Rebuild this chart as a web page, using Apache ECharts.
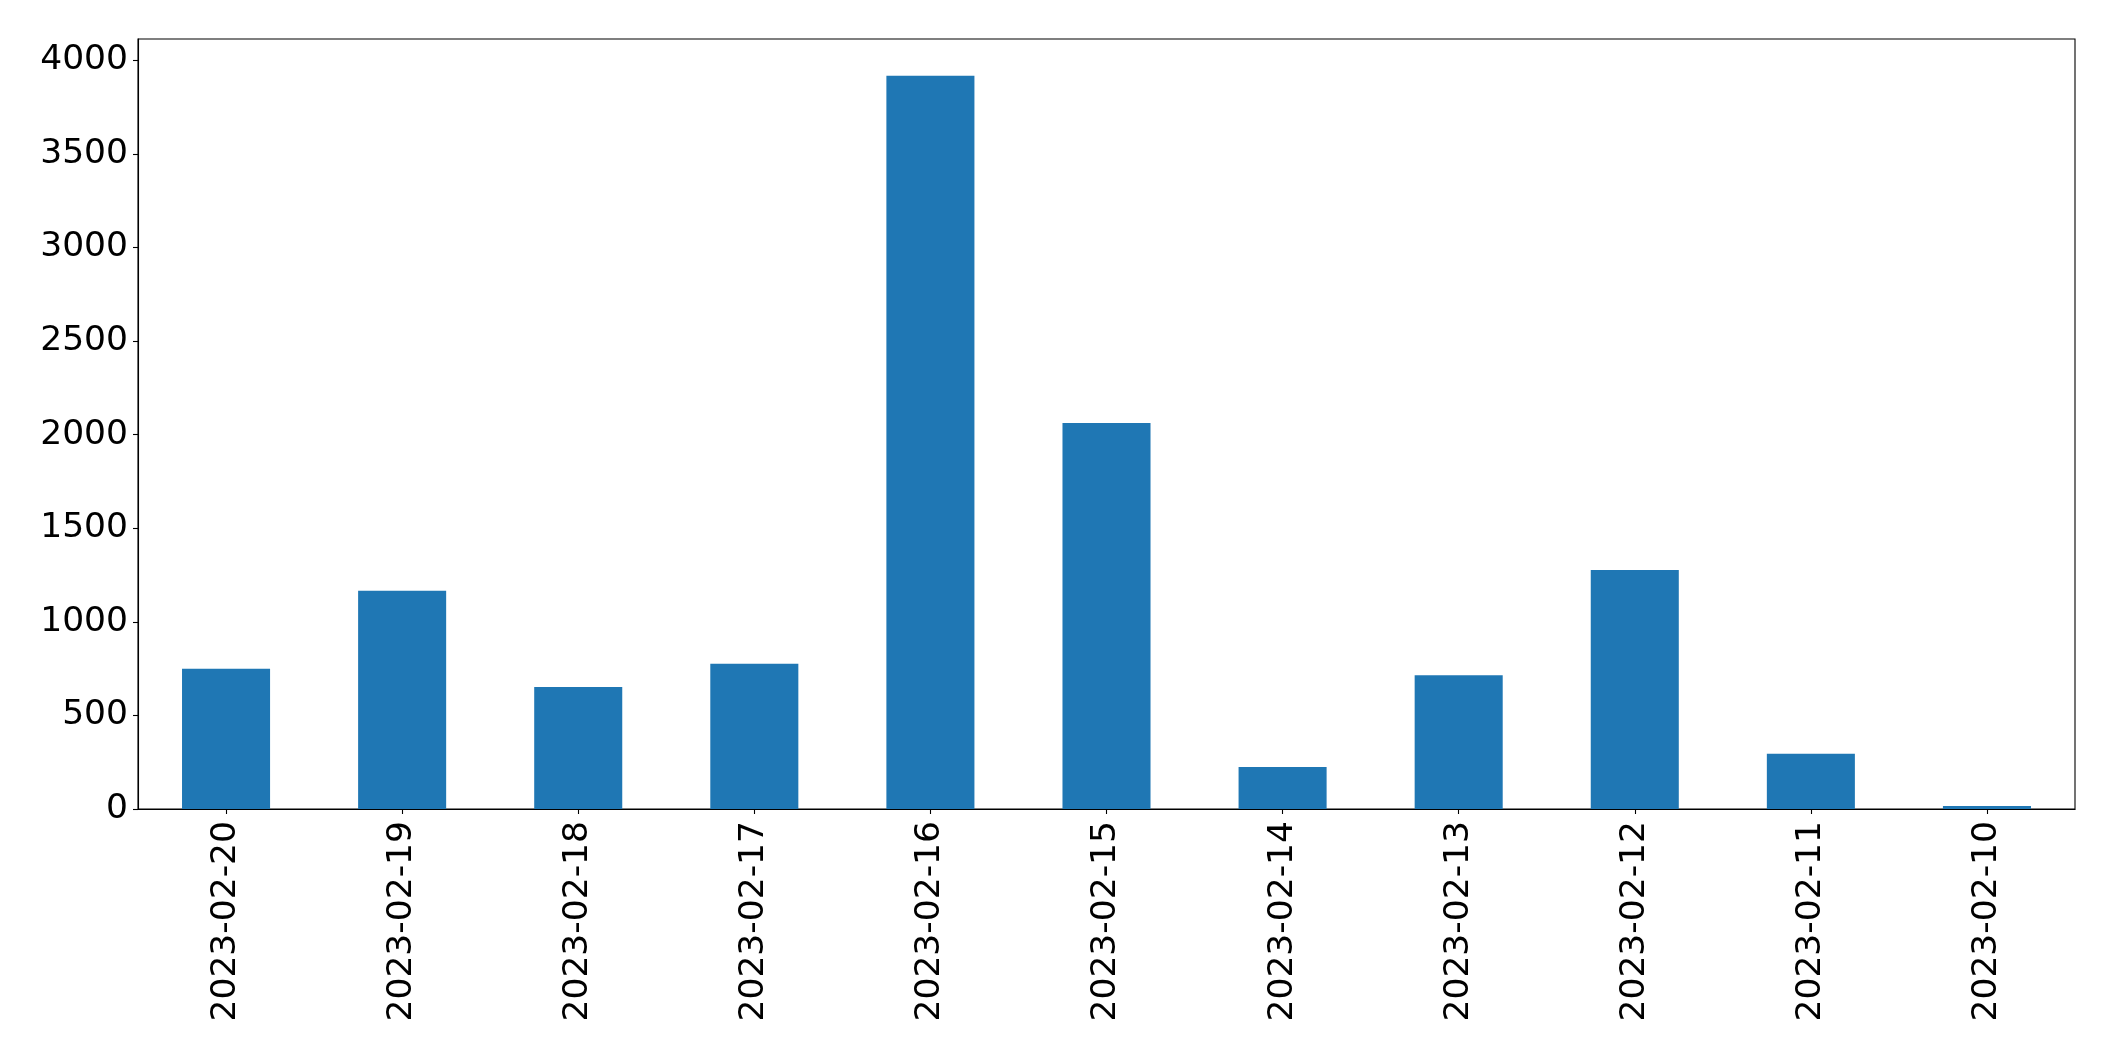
<!DOCTYPE html>
<html>
<head>
<meta charset="utf-8">
<script src="https://cdn.jsdelivr.net/npm/echarts@6/dist/echarts.min.js"></script>
<style>
html,body{margin:0;padding:0;background:#fff;}
#chart{width:2115px;height:1061px;}
</style>
</head>
<body>
<div id="chart"></div>
<script>
const categories = ['2023-02-20','2023-02-19','2023-02-18','2023-02-17','2023-02-16','2023-02-15','2023-02-14','2023-02-13','2023-02-12','2023-02-11','2023-02-10'];
const values = [750, 1166, 652, 776, 3918, 2062, 225, 715, 1277, 295, 16];
const yTicks = [0, 500, 1000, 1500, 2000, 2500, 3000, 3500, 4000];
const yMax = 4114;

const chart = echarts.init(document.getElementById('chart'), null, {renderer: 'canvas'});
const font = 'DejaVu Sans';
chart.setOption({
  animation: false,
  backgroundColor: '#ffffff',
  grid: {
    left: 138, top: 39, width: 1937, height: 770,
    show: true, borderColor: '#000', borderWidth: 1.1, backgroundColor: 'transparent'
  },
  xAxis: {
    type: 'category',
    data: categories,
    axisLine: {show: true, lineStyle: {color: '#000', width: 1.1}},
    axisTick: {show: true, alignWithLabel: true, length: 5, lineStyle: {color: '#000', width: 1.1}},
    axisLabel: {rotate: 90, margin: 12, color: '#000', fontFamily: font, fontSize: 34.5, interval: 0},
    splitLine: {show: false}
  },
  yAxis: {
    type: 'value',
    min: 0,
    max: yMax,
    interval: 500,
    axisLine: {show: true, lineStyle: {color: '#000', width: 1.1}},
    axisTick: {show: true, length: 5, lineStyle: {color: '#000', width: 1.1}, customValues: yTicks},
    axisLabel: {color: '#000', fontFamily: font, fontSize: 34.5, margin: 10, customValues: yTicks,
      padding: [8, 0, 0, 0],
      formatter: function (v) { return String(v); }},
    splitLine: {show: false}
  },
  series: [{
    type: 'bar',
    data: values,
    barWidth: '50%',
    itemStyle: {color: '#1f77b4'}
  }]
});
</script>
</body>
</html>
